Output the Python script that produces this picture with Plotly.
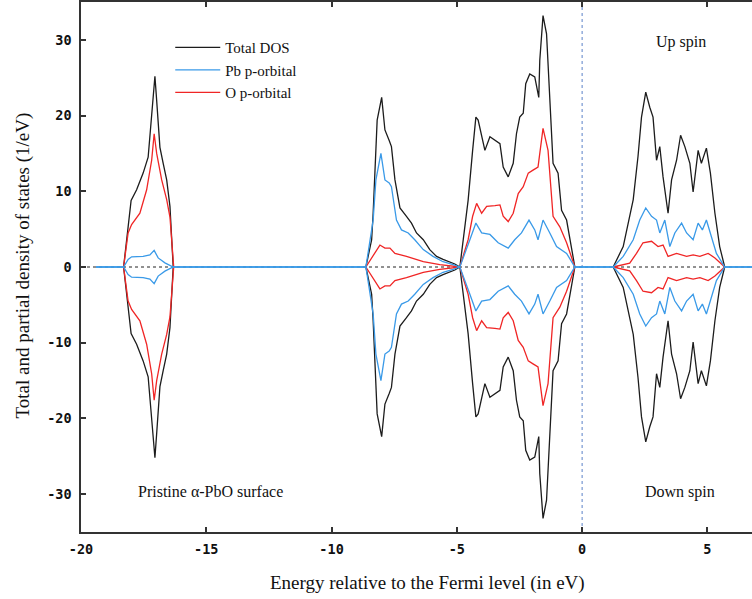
import plotly.graph_objects as go

# Spin-up densities of states (1/eV); the down-spin channel is drawn as the negative.
# Total and O-p curves are listed band by band (None separates the bands);
# the Pb-p curve also carries the zero baseline between the bands.
total_energy = [-18.3, -18.12, -18.0, -17.78, -17.52, -17.32, -17.18, -17.08, -17.05,
                -16.98, -16.85, -16.72, -16.58, -16.45, -16.36, -16.32, None,
                -8.63, -8.40, -8.34, -8.27, -8.18, -8.0, -7.87, -7.70, -7.61, -7.47, -7.27,
                -7.01, -6.81, -6.61, -6.34, -6.08, -5.81, -5.55, -5.28, -5.08, -4.88,
                -4.55, -4.37, -4.24, -4.15, -4.01, -3.88, -3.68, -3.48, -3.28, -3.15, -2.95,
                -2.75, -2.62, -2.49, -2.35, -2.25, -2.09, -1.89, -1.73, -1.69, -1.56, -1.42,
                -1.29, -1.16, -0.96, -0.82, -0.62, -0.42, -0.29, None,
                1.24, 1.64, 2.04, 2.23, 2.37, 2.54, 2.70, 2.83, 2.97, 3.10, 3.23, 3.43, 3.57,
                3.77, 3.93, 4.10, 4.30, 4.43, 4.63, 4.76, 4.96, 5.12, 5.30, 5.49, 5.69]
total_up = [0, 4.9, 8.8, 10.2, 12.4, 14.5, 19.8, 23.7, 25.2,
            22.0, 15.8, 13.7, 11.5, 8.0, 1.9, 0, None,
            0, 3.6, 7.1, 13.7, 19.4, 22.4, 18.1, 16.7, 15.9, 11.5, 7.8,
            6.7, 5.8, 4.5, 3.6, 2.3, 1.4, 1.0, 0.7, 0.4, 0,
            8.8, 15.4, 19.8, 19.4, 17.2, 15.4, 17.2, 16.8, 16.3, 13.2, 11.9,
            13.7, 17.6, 19.8, 20.3, 24.2, 25.5, 25.1, 22.4, 27.3, 33.2, 30.8,
            22.0, 13.7, 12.4, 7.5, 6.2, 2.7, 0, None,
            0, 2.7, 8.9, 14.6, 19.8, 23.1, 21.1, 19.8, 14.1, 15.9, 11.9, 7.1, 11.5,
            14.1, 17.4, 15.9, 13.7, 9.9, 15.4, 13.7, 15.7, 12.4, 7.1, 2.7, 0]

pb_energy = [-19.4, -18.3, -18.12, -17.98, -17.52, -17.25, -17.08, -16.92, -16.65, -16.32,
             -8.63, -8.34, -8.23, -8.03, -7.87, -7.70, -7.61, -7.41, -7.21, -6.94, -6.68,
             -6.34, -5.95, -5.55, -5.15, -4.88,
             -4.48, -4.24, -4.01, -3.68, -3.35, -2.95, -2.69, -2.42, -2.12, -1.89, -1.76,
             -1.56, -1.29, -1.02, -0.62, -0.36, -0.29,
             1.24, 1.64, 2.04, 2.30, 2.54, 2.77, 2.97, 3.10, 3.30, 3.50, 3.70, 3.97, 4.17,
             4.43, 4.63, 4.80, 4.96, 5.16, 5.36, 5.69, 7.0]
pb_p_up = [0, 0, 1.0, 1.35, 1.4, 1.6, 2.2, 1.2, 0.55, 0,
           0, 6.2, 11.5, 15.0, 11.5, 11.1, 10.6, 6.2, 4.9, 4.5, 3.6,
           2.3, 1.4, 0.7, 0.3, 0,
           3.6, 5.8, 4.5, 4.3, 3.2, 2.5, 3.6, 4.5, 6.2, 4.9, 3.6,
           6.2, 4.5, 2.7, 1.8, 0.4, 0,
           0, 1.4, 3.6, 6.2, 7.8, 6.7, 6.2, 4.5, 6.2, 2.7, 4.5, 5.8, 4.5,
           3.6, 5.8, 4.9, 6.2, 4.0, 1.8, 0, 0]

o_energy = [-18.3, -18.12, -17.98, -17.65, -17.38, -17.18, -17.08, -16.98, -16.78,
            -16.58, -16.45, -16.36, -16.3, None,
            -8.63, -8.34, -8.07, -7.87, -7.67, -7.47, -7.01, -6.34, -5.68, -4.88,
            -4.55, -4.37, -4.21, -4.01, -3.81, -3.48, -3.28, -3.15, -2.95, -2.75, -2.55,
            -2.35, -2.15, -1.96, -1.76, -1.56, -1.36, -1.16, -0.89, -0.62, -0.36, -0.29, None,
            1.24, 1.90, 2.17, 2.43, 2.77, 3.03, 3.23, 3.43, 3.77, 4.17, 4.43, 4.70, 5.03,
            5.30, 5.69]
o_p_up = [0, 4.5, 5.6, 7.1, 10.2, 14.1, 17.6, 15.0, 11.5,
          8.9, 6.6, 1.8, 0, None,
          0, 1.6, 2.9, 2.5, 2.5, 1.8, 1.4, 0.7, 0.3, 0,
          3.6, 6.7, 8.4, 7.1, 8.0, 8.1, 8.2, 6.7, 6.0, 7.1, 9.7,
          10.6, 12.4, 12.8, 13.2, 18.3, 15.4, 6.7, 5.3, 3.2, 0.5, 0, None,
          0, 0.5, 1.8, 3.2, 3.4, 2.7, 2.9, 1.4, 1.8, 1.4, 1.6, 1.4, 1.8,
          1.2, 0]

x_ticks = [-20, -15, -10, -5, 0, 5]
y_ticks = [-30, -20, -10, 0, 10, 20, 30]

series = [
    ("Total DOS", total_energy, total_up, "#1c1c1c"),
    ("O p-orbital", o_energy, o_p_up, "#f02525"),
    ("Pb p-orbital", pb_energy, pb_p_up, "#3a9ae8"),
]
legend_rank = {"Total DOS": 1, "Pb p-orbital": 2, "O p-orbital": 3}


def flip(values):
    return [None if v is None else -v for v in values]


fig = go.Figure()
for name, energy, up, color in series:
    fig.add_trace(go.Scatter(
        x=energy, y=up, mode="lines", name=name, legendgroup=name,
        legendrank=legend_rank[name], connectgaps=False,
        line=dict(color=color, width=1.3),
    ))
    fig.add_trace(go.Scatter(
        x=energy, y=flip(up), mode="lines", name=name, legendgroup=name,
        showlegend=False, connectgaps=False, line=dict(color=color, width=1.3),
    ))

serif = "Liberation Serif"

# zero line and Fermi level
fig.add_shape(type="line", xref="paper", yref="y", x0=0, x1=1, y0=0, y1=0,
              line=dict(color="#222222", width=1, dash="dot"), layer="below")
fig.add_shape(type="line", xref="x", yref="paper", x0=0, x1=0, y0=0, y1=1,
              line=dict(color="#5b82c8", width=1, dash="dot"), layer="below")

fig.add_annotation(x=3.94, y=29.7, text="Up spin", showarrow=False,
                   font=dict(family=serif, size=16, color="#111111"))
fig.add_annotation(x=3.90, y=-29.7, text="Down spin", showarrow=False,
                   font=dict(family=serif, size=16, color="#111111"))
fig.add_annotation(x=-14.82, y=-29.6, text="Pristine α-PbO surface", showarrow=False,
                   font=dict(family=serif, size=16, color="#111111"))

fig.add_annotation(xref="paper", yref="paper", x=0.517, y=-0.096,
                   xanchor="center", yanchor="middle",
                   text="Energy relative to the Fermi level (in eV)", showarrow=False,
                   font=dict(family=serif, size=19, color="#111111"))
fig.add_annotation(xref="paper", yref="paper", x=-0.0864, y=0.503, textangle=-90,
                   xanchor="center", yanchor="middle",
                   text="Total and partial density of states (1/eV)", showarrow=False,
                   font=dict(family=serif, size=19, color="#111111"))

tick_font = dict(family="DejaVu Sans Mono", size=13.5, color="#111111", weight="bold")

fig.update_layout(
    width=752, height=599,
    margin=dict(l=81, r=0, t=2, b=67),
    paper_bgcolor="white", plot_bgcolor="white",
    showlegend=True,
    legend=dict(x=0.133, y=0.945, xanchor="left", yanchor="top", itemwidth=45,
                bgcolor="rgba(0,0,0,0)", font=dict(family=serif, size=15, color="#111111"),
                traceorder="normal"),
    xaxis=dict(range=[-20, 6.78], tickvals=x_ticks, ticktext=[str(v) for v in x_ticks],
               ticks="inside", ticklen=5, tickwidth=1.5, tickcolor="#333333",
               showline=True, linecolor="#333333", linewidth=1.5, mirror="ticks",
               showgrid=False, zeroline=False, tickfont=tick_font, ticklabelstandoff=4),
    yaxis=dict(range=[-35, 35], tickvals=y_ticks, ticktext=[str(v) for v in y_ticks],
               ticks="inside", ticklen=5, tickwidth=1.5, tickcolor="#333333",
               showline=True, linecolor="#333333", linewidth=1.5,
               showgrid=False, zeroline=False, tickfont=tick_font, ticklabelstandoff=5),
)

fig.write_html("out.html")
